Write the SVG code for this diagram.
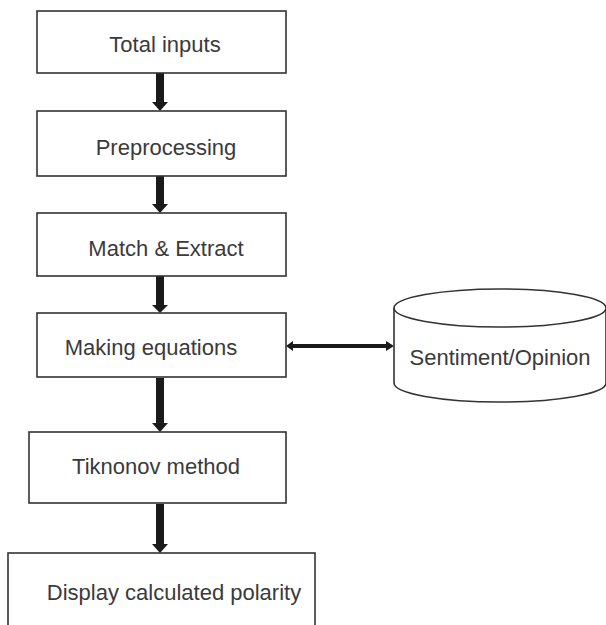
<svg xmlns="http://www.w3.org/2000/svg" width="606" height="625" viewBox="0 0 606 625">
<style>
.box{fill:#fff;stroke:#333;stroke-width:1.6}
.lbl{font-family:"Liberation Sans",Arial,sans-serif;font-size:22px;fill:#3a3a3a}
.shaft{fill:#1a1a1a}
</style>
<rect width="606" height="625" fill="#fff"/>
<g id="connectors">
<path class="shaft" d="M156,73 H164 V102 H168 L160,111 L152,102 H156 Z"/>
<path class="shaft" d="M156,176 H164 V204 H168 L160,213 L152,204 H156 Z"/>
<path class="shaft" d="M156,276 H164 V305 H168 L160,313 L152,305 H156 Z"/>
<path class="shaft" d="M156,378 H164 V423 H168 L160,432 L152,423 H156 Z"/>
<path class="shaft" d="M156,504 H164 V544 H168 L160,553 L152,544 H156 Z"/>
<path class="shaft" d="M286,346 L293,341 V344 H386 V341 L394,346 L386,351 V348 H293 V351 Z"/>
</g>
<g id="n1"><rect class="box" x="37" y="11" width="249" height="62"/><text class="lbl" x="165" y="52" text-anchor="middle">Total inputs</text></g>
<g id="n2"><rect class="box" x="37" y="111" width="249" height="65"/><text class="lbl" x="166" y="155" text-anchor="middle">Preprocessing</text></g>
<g id="n3"><rect class="box" x="37" y="213" width="249" height="63"/><text class="lbl" x="166" y="256" text-anchor="middle">Match &amp; Extract</text></g>
<g id="n4"><rect class="box" x="37" y="313" width="249" height="64"/><text class="lbl" x="151" y="355" text-anchor="middle">Making equations</text></g>
<g id="n5"><path class="box" d="M394,308 V383 A106,19 0 0 0 606,383 V308"/><ellipse class="box" cx="500" cy="308" rx="106" ry="19"/><text class="lbl" x="500" y="365" text-anchor="middle">Sentiment/Opinion</text></g>
<g id="n6"><rect class="box" x="29" y="432" width="257" height="71"/><text class="lbl" x="156" y="474" text-anchor="middle">Tiknonov method</text></g>
<g id="n7"><rect class="box" x="8" y="553" width="307" height="80"/><text class="lbl" x="174" y="600" text-anchor="middle">Display calculated polarity</text></g>
</svg>
